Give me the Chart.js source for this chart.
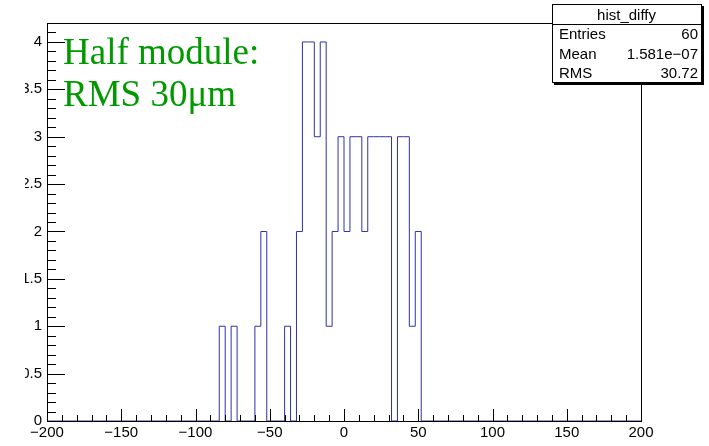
<!DOCTYPE html>
<html>
<head>
<meta charset="utf-8">
<script src="https://cdn.jsdelivr.net/npm/chart.js@4.4.1/dist/chart.umd.min.js"></script>
<style>
  html, body { margin: 0; padding: 0; background: #fff; }
  canvas { display: block; }
</style>
</head>
<body>
<canvas id="hist" width="709" height="446"></canvas>
<script>
// hist_diffy: 100 bins from -200 to 200, counts
const xMin = -200;
const xMax = 200;
const binWidth = 4;
const counts = [
  0, 0, 0, 0, 0, 0, 0, 0, 0, 0,
  0, 0, 0, 0, 0, 0, 0, 0, 0, 0,
  0, 0, 0, 0, 0, 0, 0, 0, 0, 1,
  0, 1, 0, 0, 0, 1, 2, 0, 0, 0,
  1, 0, 2, 4, 4, 3, 4, 1, 2, 3,
  2, 3, 3, 2, 3, 3, 3, 3, 0, 3,
  3, 1, 2, 0, 0, 0, 0, 0, 0, 0,
  0, 0, 0, 0, 0, 0, 0, 0, 0, 0,
  0, 0, 0, 0, 0, 0, 0, 0, 0, 0,
  0, 0, 0, 0, 0, 0, 0, 0, 0, 0,
];
const yMax = 4.2;
const yStep = 0.5;
const xStep = 50;

const statTitle = 'hist_diffy';
const statNames = ['Entries', 'Mean', 'RMS'];
const statValues = ['60', '1.581e\u221207', '30.72'];
const noteLines = ['Half module:', 'RMS 30\u03bcm'];

const LINE = '#3030aa';
const GREEN = '#009900';
const SANS = "'Liberation Sans', Arial, sans-serif";
const SERIF = "'Liberation Serif', 'Times New Roman', serif";

const points = counts.map((c, i) => ({ x: xMin + i * binWidth, y: c }));
points.push({ x: xMax, y: 0 });

// frame, inward ROOT-style ticks, stats box and the green note
const rootStyle = {
  id: 'rootStyle',
  afterDatasetsDraw(chart) {
    const { ctx, chartArea: a, scales: { x, y } } = chart;
    ctx.save();
    ctx.strokeStyle = '#000';
    ctx.lineWidth = 1;
    ctx.beginPath();
    for (let k = 0; k <= 42; k++) {
      const py = Math.round(y.getPixelForValue(k / 10)) + 0.5;
      const len = k % 5 === 0 ? 18 : 9;
      ctx.moveTo(a.left, py);
      ctx.lineTo(a.left + len, py);
    }
    for (let v = xMin; v <= xMax; v += 10) {
      const px = Math.round(x.getPixelForValue(v)) + 0.5;
      const len = v % 50 === 0 ? 12 : 6;
      ctx.moveTo(px, a.bottom);
      ctx.lineTo(px, a.bottom - len);
    }
    ctx.stroke();
    ctx.strokeRect(a.left + 0.5, a.top + 0.5, a.right - a.left, a.bottom - a.top);
    ctx.restore();
  },
  afterDraw(chart) {
    const { ctx } = chart;
    ctx.save();
    // the original pad cuts the left part of the y labels
    ctx.fillStyle = '#fff';
    ctx.fillRect(0, 28, 25, 384);

    // stats box
    const bx = 552, by = 4, bw = 149, bh = 78;
    ctx.fillStyle = '#000';
    ctx.fillRect(bx + 2, by + 2, bw + 1, bh + 1);
    ctx.fillStyle = '#fff';
    ctx.fillRect(bx, by, bw, bh);
    ctx.strokeStyle = '#000';
    ctx.lineWidth = 1;
    ctx.strokeRect(bx + 0.5, by + 0.5, bw, bh);
    ctx.beginPath();
    ctx.moveTo(bx, 24.5);
    ctx.lineTo(bx + bw, 24.5);
    ctx.stroke();

    ctx.fillStyle = '#000';
    ctx.font = '15px ' + SANS;
    ctx.textBaseline = 'alphabetic';
    ctx.textAlign = 'center';
    ctx.fillText(statTitle, bx + bw / 2, 20);
    const baselines = [38.5, 58.5, 78];
    statNames.forEach((n, i) => {
      ctx.textAlign = 'left';
      ctx.fillText(n, 559, baselines[i]);
      ctx.textAlign = 'right';
      ctx.fillText(statValues[i], 698, baselines[i]);
    });

    // note
    ctx.fillStyle = GREEN;
    ctx.font = '37px ' + SERIF;
    ctx.textAlign = 'left';
    ctx.fillText(noteLines[0], 63, 64);
    ctx.fillText(noteLines[1], 63, 106);
    ctx.restore();
  },
};

new Chart(document.getElementById('hist'), {
  type: 'line',
  data: {
    datasets: [{
      data: points,
      stepped: 'before',
      borderColor: LINE,
      borderWidth: 1,
      pointRadius: 0,
      fill: false,
      tension: 0,
    }],
  },
  options: {
    responsive: false,
    animation: false,
    events: [],
    layout: { padding: { top: 23, right: 68, left: 0, bottom: 0 } },
    plugins: { legend: { display: false }, tooltip: { enabled: false } },
    scales: {
      x: {
        type: 'linear',
        min: xMin,
        max: xMax,
        grid: { display: false, drawTicks: false, tickLength: 0 },
        border: { display: false },
        afterFit: (s) => { s.height = 25; },
        ticks: {
          stepSize: xStep,
          includeBounds: false,
          autoSkip: false,
          maxRotation: 0,
          padding: 3,
          color: '#000',
          font: { family: SANS, size: 15 },
          callback: (v) => (v < 0 ? '\u2212' + Math.abs(v) : String(v)),
        },
      },
      y: {
        min: 0,
        max: yMax,
        grid: { display: false, drawTicks: false, tickLength: 0 },
        border: { display: false },
        afterFit: (s) => { s.width = 47; },
        ticks: {
          stepSize: yStep,
          includeBounds: false,
          padding: 5,
          color: '#000',
          font: { family: SANS, size: 15 },
          callback: (v) => String(v),
        },
      },
    },
  },
  plugins: [rootStyle],
});
</script>
</body>
</html>
